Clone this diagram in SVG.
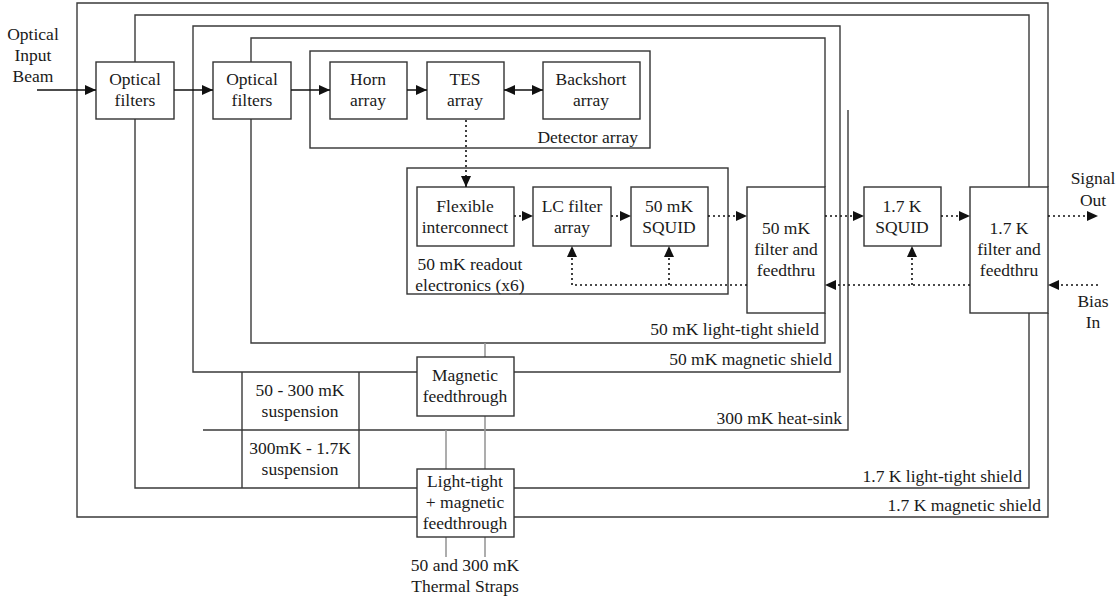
<svg xmlns="http://www.w3.org/2000/svg" width="1120" height="597" viewBox="0 0 1120 597">
<style>
text{font-family:"Liberation Serif","Times New Roman",serif;font-size:17.5px;fill:#1a1a1a;text-anchor:middle}
.r{text-anchor:end}
.box{fill:#fff;stroke:#333;stroke-width:1.4}
.sh{fill:none;stroke:#3a3a3a;stroke-width:1.4}
.gr{fill:none;stroke:#999;stroke-width:1.6}
.a{fill:none;stroke:#111;stroke-width:1.5;marker-end:url(#ah)}
.d{fill:none;stroke:#111;stroke-width:1.6;stroke-dasharray:2 3}
.da{fill:none;stroke:#111;stroke-width:1.6;stroke-dasharray:2 3;marker-end:url(#ah)}
</style>
<defs>
<marker id="ah" markerUnits="userSpaceOnUse" markerWidth="11" markerHeight="10" refX="11" refY="5" orient="auto-start-reverse">
<path d="M0,0 L11,5 L0,10 z" fill="#111"/>
</marker>
</defs>
<rect width="1120" height="597" fill="#fff"/>

<g id="shields">
<!-- 1.7 K magnetic shield -->
<path class="sh" d="M417,517 H77 V3 H1048 V187 M1048,313 V517 H514"/>
<!-- 1.7 K light-tight shield -->
<path class="sh" d="M417,488 H135 V119 M135,62 V15 H1029 V187 M1029,313 V488 H514"/>
<!-- 50 mK magnetic shield -->
<path class="sh" d="M417,372 H193 V26 H840 V372 H514"/>
<!-- 50 mK light-tight shield -->
<path class="sh" d="M251,119 V343 H825 V313 M825,187 V38 H251 V62"/>
<!-- 300 mK heat-sink -->
<path class="sh" d="M203,430 H848 V110"/>
<!-- suspensions -->
<path class="sh" d="M242,372 V488 M359,372 V488"/>
<!-- thermal straps -->
<path class="gr" d="M485,343 V357 M485,416 V469 M446,430 V469 M446,537 V557 M485,537 V557"/>
</g>

<g id="labels">
<text x="33" y="40">Optical</text>
<text x="33" y="61">Input</text>
<text x="33" y="82">Beam</text>
<text x="1093" y="184">Signal</text>
<text x="1093" y="206">Out</text>
<text x="1093" y="307">Bias</text>
<text x="1093" y="328">In</text>
<text class="r" x="819" y="335">50 mK light-tight shield</text>
<text class="r" x="832" y="365">50 mK magnetic shield</text>
<text class="r" x="842" y="424">300 mK heat-sink</text>
<text class="r" x="1022" y="482">1.7 K light-tight shield</text>
<text class="r" x="1041" y="511">1.7 K magnetic shield</text>
<text x="300" y="396">50 - 300 mK</text>
<text x="300" y="417">suspension</text>
<text x="300" y="454">300mK - 1.7K</text>
<text x="300" y="475">suspension</text>
<text x="465" y="571">50 and 300 mK</text>
<text x="465" y="592">Thermal Straps</text>
</g>

<g id="detector-array">
<rect class="box" x="310" y="51" width="340" height="97"/>
<text class="r" x="638" y="143">Detector array</text>
</g>
<g id="readout">
<rect class="box" x="407" y="168" width="321" height="126"/>
<text x="470" y="270">50 mK readout</text>
<text x="470" y="291">electronics (x6)</text>
</g>

<g id="optical-filters-1">
<rect class="box" x="96" y="62" width="78" height="57"/>
<text x="135" y="85">Optical</text>
<text x="135" y="106">filters</text>
</g>
<g id="optical-filters-2">
<rect class="box" x="213" y="62" width="78" height="57"/>
<text x="252" y="85">Optical</text>
<text x="252" y="106">filters</text>
</g>
<g id="horn-array">
<rect class="box" x="330" y="62" width="77" height="57"/>
<text x="368" y="85">Horn</text>
<text x="368" y="106">array</text>
</g>
<g id="tes-array">
<rect class="box" x="427" y="62" width="77" height="57"/>
<text x="465" y="85">TES</text>
<text x="465" y="106">array</text>
</g>
<g id="backshort-array">
<rect class="box" x="543" y="62" width="97" height="57"/>
<text x="591" y="85">Backshort</text>
<text x="591" y="106">array</text>
</g>
<g id="flexible-interconnect">
<rect class="box" x="417" y="187" width="97" height="59"/>
<text x="465" y="212">Flexible</text>
<text x="465" y="233">interconnect</text>
</g>
<g id="lc-filter">
<rect class="box" x="533" y="187" width="78" height="59"/>
<text x="572" y="212">LC filter</text>
<text x="572" y="233">array</text>
</g>
<g id="squid-50mk">
<rect class="box" x="631" y="187" width="77" height="59"/>
<text x="669" y="212">50 mK</text>
<text x="669" y="233">SQUID</text>
</g>
<g id="filter-50mk">
<rect class="box" x="747" y="187" width="78" height="126"/>
<text x="786" y="234">50 mK</text>
<text x="786" y="255">filter and</text>
<text x="786" y="276">feedthru</text>
</g>
<g id="squid-1.7k">
<rect class="box" x="864" y="187" width="77" height="59"/>
<text x="902" y="212">1.7 K</text>
<text x="902" y="233">SQUID</text>
</g>
<g id="filter-1.7k">
<rect class="box" x="970" y="187" width="78" height="126"/>
<text x="1009" y="234">1.7 K</text>
<text x="1009" y="255">filter and</text>
<text x="1009" y="276">feedthru</text>
</g>
<g id="magnetic-feedthrough">
<rect class="box" x="417" y="357" width="97" height="59"/>
<text x="465" y="381">Magnetic</text>
<text x="465" y="402">feedthrough</text>
</g>
<g id="lighttight-feedthrough">
<rect class="box" x="417" y="469" width="97" height="68"/>
<text x="465" y="487">Light-tight</text>
<text x="465" y="508">+ magnetic</text>
<text x="465" y="529">feedthrough</text>
</g>

<g id="connectors">
<path class="a" d="M37,90 H96"/>
<path class="a" d="M174,90 H213"/>
<path class="a" d="M291,90 H330"/>
<path class="a" d="M407,90 H427"/>
<path class="a" d="M504,90 H543" style="marker-start:url(#ah)"/>
<path class="da" d="M466,120 V187"/>
<path class="da" d="M514,216 H533"/>
<path class="da" d="M611,216 H631"/>
<path class="da" d="M708,216 H747"/>
<path class="da" d="M825,216 H864"/>
<path class="da" d="M941,216 H970"/>
<path class="da" d="M1048,216 H1098"/>
<path class="da" d="M1098,285 H1048"/>
<path class="da" d="M970,285 H825"/>
<path class="d" d="M747,285 H572"/>
<path class="da" d="M572,285 V246"/>
<path class="da" d="M669,285 V246"/>
<path class="da" d="M912,285 V246"/>
</g>
</svg>
